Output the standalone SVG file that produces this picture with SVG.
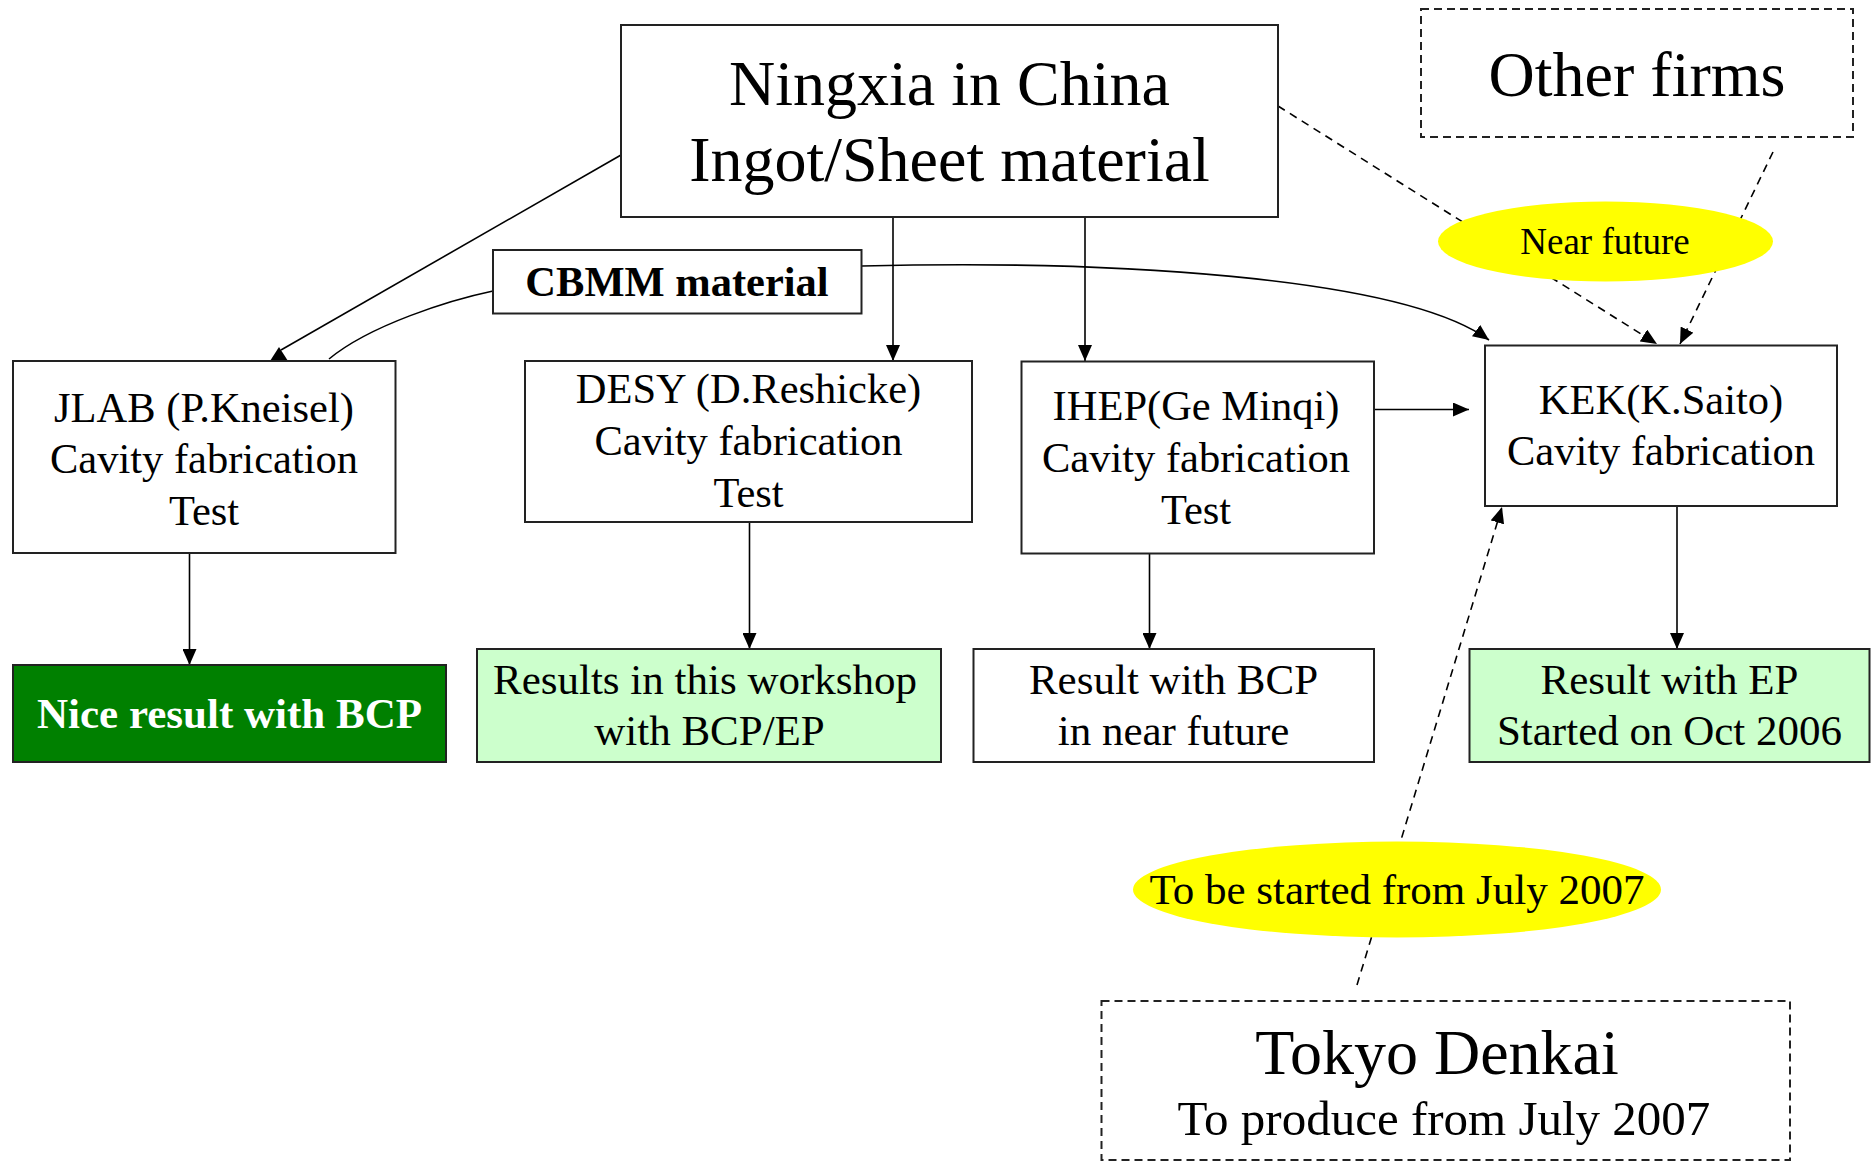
<svg xmlns="http://www.w3.org/2000/svg" width="1873" height="1161" viewBox="0 0 1873 1161">
<defs>
<style>
text{font-family:"Liberation Serif","Times New Roman",serif;fill:#000;text-anchor:middle}
.box{fill:#fff;stroke:#222;stroke-width:2}
.dbox{fill:#fff;stroke:#222;stroke-width:2;stroke-dasharray:8 5}
.lg{fill:#ccffcc;stroke:#222;stroke-width:2}
.dg{fill:#008000;stroke:#222;stroke-width:2}
.yel{fill:#ffff00;stroke:none}
.c{fill:none;stroke:#000;stroke-width:1.6}
.d{fill:none;stroke:#000;stroke-width:1.6;stroke-dasharray:8 6}
.t42{font-size:42.5px}
.t43{font-size:43px}
.big{font-size:64px}
</style>
<marker id="ah" markerUnits="userSpaceOnUse" markerWidth="16" markerHeight="14" refX="16" refY="7" orient="auto">
<path d="M0,0 L16,7 L0,14 z" fill="#000"/>
</marker>
</defs>
<rect width="1873" height="1161" fill="#fff"/>

<g id="connectors">
<path class="c" d="M621,155 L281,350"/>
<polygon points="279,347 270,361 288,361" fill="#000"/>
<path class="c" d="M493,291 C450,300 370,325 329,359"/>
<path class="c" d="M893,217 L893,361" marker-end="url(#ah)"/>
<path class="c" d="M1085,217 L1085,361" marker-end="url(#ah)"/>
<path class="c" d="M862,266 C1100,260 1400,275 1489,340" marker-end="url(#ah)"/>
<path class="c" d="M1374,409.5 L1469,409.5" marker-end="url(#ah)"/>
<path class="d" d="M1278,106 L1657,344" marker-end="url(#ah)"/>
<path class="d" d="M1773,152 L1680,344" marker-end="url(#ah)"/>
<path class="c" d="M1677,506 L1677,649" marker-end="url(#ah)"/>
<path class="c" d="M189.5,553 L189.5,665" marker-end="url(#ah)"/>
<path class="c" d="M749.5,522 L749.5,649" marker-end="url(#ah)"/>
<path class="c" d="M1149.5,554 L1149.5,649" marker-end="url(#ah)"/>
<path class="d" d="M1357,985 L1502,507" marker-end="url(#ah)"/>
</g>

<g id="ningxia">
<rect class="box" x="621" y="25" width="657" height="192"/>
<text class="big" x="949.5" y="105">Ningxia in China</text>
<text class="big" x="949.5" y="181">Ingot/Sheet material</text>
</g>

<g id="other-firms">
<rect class="dbox" x="1421" y="9" width="432" height="128"/>
<text class="big" x="1637" y="96">Other firms</text>
</g>

<g id="near-future">
<ellipse class="yel" cx="1605.5" cy="241.5" rx="167.5" ry="40"/>
<text x="1605" y="254" style="font-size:37px">Near future</text>
</g>

<g id="cbmm">
<rect class="box" x="493" y="250" width="368.5" height="63.5"/>
<text x="677" y="296" style="font-size:42.5px;font-weight:bold">CBMM material</text>
</g>

<g id="jlab">
<rect class="box" x="13" y="361" width="382.5" height="192"/>
<text class="t42" x="204" y="422">JLAB (P.Kneisel)</text>
<text class="t42" x="204" y="473">Cavity fabrication</text>
<text class="t42" x="204" y="525">Test</text>
</g>

<g id="desy">
<rect class="box" x="525" y="361" width="447" height="161"/>
<text class="t42" x="748.5" y="403">DESY (D.Reshicke)</text>
<text class="t42" x="748.5" y="455">Cavity fabrication</text>
<text class="t42" x="748.5" y="507">Test</text>
</g>

<g id="ihep">
<rect class="box" x="1021.5" y="361.5" width="352.5" height="192"/>
<text class="t42" x="1196" y="420">IHEP(Ge Minqi)</text>
<text class="t42" x="1196" y="472">Cavity fabrication</text>
<text class="t42" x="1196" y="523.5">Test</text>
</g>

<g id="kek">
<rect class="box" x="1485" y="345.5" width="352" height="160.5"/>
<text class="t42" x="1661" y="414">KEK(K.Saito)</text>
<text class="t42" x="1661" y="465">Cavity fabrication</text>
</g>

<g id="nice-result">
<rect class="dg" x="13" y="665" width="433" height="97"/>
<text x="229.5" y="728" style="font-size:43px;font-weight:bold;fill:#fff">Nice result with BCP</text>
</g>

<g id="results-workshop">
<rect class="lg" x="477" y="649" width="464" height="113"/>
<text class="t43" x="705" y="694">Results in this workshop</text>
<text class="t43" x="709.5" y="745">with BCP/EP</text>
</g>

<g id="result-bcp">
<rect class="box" x="973.5" y="649" width="400.5" height="113"/>
<text class="t43" x="1173.5" y="694">Result with BCP</text>
<text class="t43" x="1173.5" y="745">in near future</text>
</g>

<g id="result-ep">
<rect class="lg" x="1469.5" y="649" width="400" height="113"/>
<text class="t43" x="1669.5" y="694">Result with EP</text>
<text class="t43" x="1669.5" y="745">Started on Oct 2006</text>
</g>

<g id="to-be-started">
<ellipse class="yel" cx="1397" cy="889.5" rx="264" ry="48"/>
<text class="t43" x="1397" y="904">To be started from July 2007</text>
</g>

<g id="tokyo-denkai">
<rect class="dbox" x="1101.5" y="1001" width="688.5" height="159"/>
<text class="big" x="1437" y="1074">Tokyo Denkai</text>
<text x="1444" y="1135" style="font-size:49px">To produce from July 2007</text>
</g>
</svg>
